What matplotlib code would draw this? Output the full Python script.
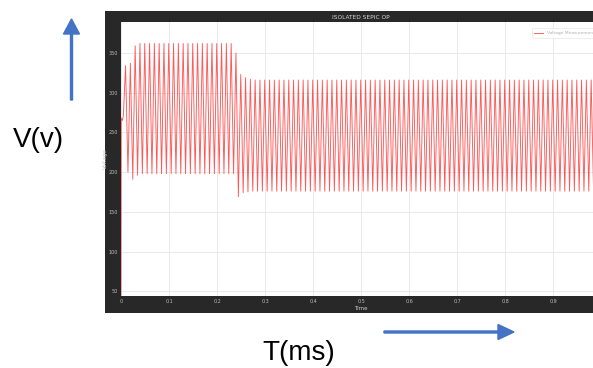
import matplotlib
matplotlib.use("Agg")
import matplotlib.pyplot as plt
from matplotlib.patches import Rectangle, FancyArrow

# ------------------------------------------------------------------------------
# values
start_t = [0.0, 0.0005, 0.003, 0.005]          # start-up before first ripple peak
start_v = [45, 268, 265, 272]

ripple_t0 = 0.0095        # time of first ripple peak
ripple_period = 0.01      # peak-to-peak spacing

peak_v = [334, 337, 359] + [362] * 20 + [350, 323, 319, 317] + [316] * 73
trough_v = [200, 191, 196] + [198] * 20 + [169, 174, 175] + [176] * 74

xticks = [0, 0.1, 0.2, 0.3, 0.4, 0.5, 0.6, 0.7, 0.8, 0.9]
xticklabels = ["0", "0.1", "0.2", "0.3", "0.4", "0.5", "0.6", "0.7", "0.8", "0.9"]
yticks = [50, 100, 150, 200, 250, 300, 350]

# build the trace: peak, then trough half a period later
t = list(start_t)
v = list(start_v)
for k in range(len(peak_v)):
    tp = ripple_t0 + k * ripple_period
    t.append(tp)
    v.append(peak_v[k])
    t.append(tp + ripple_period / 2)
    v.append(trough_v[k])

# ------------------------------------------------------------------------------
W, H = 593, 368
fig = plt.figure(figsize=(W / 100, H / 100), dpi=100)
fig.patch.set_facecolor("white")

# dark scope frame
fig.patches.append(Rectangle((105 / W, (H - 313) / H), (W - 105) / W, (313 - 11) / H,
                             transform=fig.transFigure, facecolor="#282828",
                             edgecolor="none", zorder=-10))

ax = fig.add_axes([121 / W, (H - 296) / H, 480 / W, 274 / H])
ax.set_facecolor("white")
ax.plot(t, v, color="#ff3b3b", lw=0.65, alpha=0.85, label="Voltage Measurement")
ax.set_xlim(0, 1.0)
ax.set_ylim(44, 389)
ax.set_xticks(xticks)
ax.set_xticklabels(xticklabels)
ax.set_yticks(yticks)
ax.grid(True, color="#e6e6e6", lw=0.6)
ax.tick_params(colors="#bdbdbd", labelsize=3.5, length=0, pad=2.5)
for s in ax.spines.values():
    s.set_visible(False)
ax.set_title("ISOLATED SEPIC OP", fontsize=4.2, color="#d8d8d8", pad=2.5)
ax.set_xlabel("Time", fontsize=4, color="#d0d0d0", labelpad=1)
ax.set_ylabel("Voltage", fontsize=4, color="#c8c8c8", labelpad=0.5)
leg = ax.legend(loc="upper right", fontsize=3.2, frameon=True, handlelength=2,
                borderpad=0.6, bbox_to_anchor=(0.997, 0.985))
leg.get_frame().set_edgecolor("#e0e0e0")
leg.get_frame().set_linewidth(0.5)
for txt in leg.get_texts():
    txt.set_color("#b0b0b0")

# annotations outside the scope
fig.text(13 / W, (H - 140) / H, "V(v)", fontsize=20, family="Liberation Sans",
         ha="left", va="center", color="black")
fig.text(262 / W, (H - 353) / H, "T(ms)", fontsize=20, family="Liberation Sans",
         ha="left", va="center", color="black")

blue = "#4472c4"
fig.patches.append(FancyArrow(0.715, (H - 100) / 100, 0, 0.81, width=0.02,
                              head_width=0.16, head_length=0.15,
                              length_includes_head=True, color=blue,
                              transform=fig.dpi_scale_trans))
fig.patches.append(FancyArrow(3.84, (H - 332) / 100, 1.30, 0, width=0.02,
                              head_width=0.15, head_length=0.16,
                              length_includes_head=True, color=blue,
                              transform=fig.dpi_scale_trans))

fig.savefig("out.png", dpi=100)
